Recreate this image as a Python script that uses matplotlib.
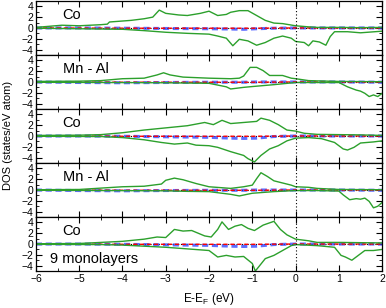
import numpy as np
import matplotlib.pyplot as plt
from matplotlib.ticker import MultipleLocator

plt.rcParams['font.family'] = ['Liberation Sans', 'DejaVu Sans']

labels = ["Co", "Mn - Al", "Co", "Mn - Al", "Co"]

# green curves: (energy, dos) for spin up and spin down, one pair per layer
co1_up_e = [-6, -5.4, -5, -4.5, -4.35, -4.3, -3.8, -3.5, -3.3, -3.15, -3, -2.7, -2.5, -2.2, -2, -1.8, -1.6, -1.5, -1.3, -1.1, -0.9, -0.7, -0.5, -0.3, 0, 0.3, 0.5, 1, 1.5, 2]
co1_up = [0.1, 0.5, 0.4, 0.6, 0.7, 1.1, 1.4, 1.7, 2.0, 3.3, 2.7, 2.4, 2.3, 2.7, 3.1, 2.3, 2.5, 2.9, 3.2, 3.2, 2.3, 1.4, 0.9, 0.8, 0.4, 0.2, 0.1, 0.1, 0.05, 0.1]
co1_dn_e = [-6, -5, -4, -3.5, -3, -2.5, -2, -1.8, -1.6, -1.45, -1.3, -1.1, -0.9, -0.7, -0.5, -0.3, -0.1, 0, 0.2, 0.3, 0.4, 0.55, 0.7, 0.8, 0.9, 1.2, 1.5, 2]
co1_dn = [-0.05, -0.15, -0.25, -0.5, -0.8, -1.0, -1.15, -1.5, -1.9, -3.3, -2.1, -2.4, -3.2, -2.7, -1.9, -1.5, -1.9, -2.5, -2.7, -3.3, -2.4, -2.6, -3.2, -1.6, -0.7, -0.7, -0.9, -0.6]

mn2_up_e = [-6, -5, -4.5, -4, -3.5, -3.2, -3.05, -2.9, -2.6, -2, -1.5, -1.3, -1.2, -1.05, -0.9, -0.75, -0.6, -0.3, -0.1, 0, 0.3, 0.5, 1, 2]
mn2_up = [0.1, 0.15, 0.25, 0.6, 0.7, 1.3, 1.7, 1.3, 0.9, 0.7, 0.6, 0.7, 1.1, 2.7, 2.7, 2.1, 1.2, 1.2, 0.7, 0.6, 0.25, 0.2, 0.1, 0.05]
mn2_dn_e = [-6, -3, -2, -1.6, -1.5, -1.2, -1, -0.5, 0, 0.5, 1, 1.2, 1.4, 1.5, 1.6, 1.7, 1.8, 1.9, 2]
mn2_dn = [-0.05, -0.15, -0.25, -0.9, -1.3, -1.0, -0.85, -0.5, -0.1, -0.1, -0.1, -0.9, -1.5, -1.7, -2.1, -2.7, -2.4, -2.7, -2.1]

co3_up_e = [-6, -5, -4.5, -4, -3.5, -3, -2.5, -2.1, -1.9, -1.7, -1.5, -1.2, -0.9, -0.8, -0.6, -0.4, -0.2, 0, 0.2, 0.5, 1, 1.5, 2]
co3_up = [0.1, 0.15, 0.25, 0.6, 1.1, 1.5, 1.9, 2.5, 2.1, 2.9, 2.3, 2.5, 2.7, 3.3, 2.9, 2.1, 1.1, 0.9, 0.5, 0.3, 0.25, 0.2, 0.1]
co3_dn_e = [-6, -4.5, -4, -3.5, -3.1, -2.8, -2.5, -2.3, -2, -1.8, -1.5, -1.2, -1.1, -0.95, -0.8, -0.6, -0.4, -0.2, 0, 0.3, 0.6, 0.9, 1.1, 1.2, 1.35, 1.5, 1.8, 2]
co3_dn = [-0.05, -0.1, -0.3, -0.7, -1.2, -1.5, -1.3, -1.7, -1.8, -2.1, -2.9, -3.6, -4.2, -4.8, -3.6, -2.4, -1.8, -0.9, -0.4, -0.3, -0.5, -1.2, -2.4, -2.6, -2.1, -1.3, -1.1, -0.9]

mn4_up_e = [-6, -5, -4.5, -4, -3.5, -3.1, -3, -2.8, -2.6, -2.3, -2, -1.5, -1.2, -1, -0.9, -0.8, -0.65, -0.5, -0.3, -0.1, 0, 0.3, 0.5, 1, 2]
mn4_up = [0.05, 0.1, 0.35, 0.6, 0.7, 1.1, 1.8, 2.2, 1.9, 1.2, 0.6, 0.3, 0.6, 0.9, 2.1, 3.2, 2.5, 1.7, 1.3, 0.9, 0.6, 0.5, 0.3, 0.1, 0.05]
mn4_dn_e = [-6, -3, -2.5, -2, -1.5, -1.3, -1, -0.5, 0, 0.5, 1, 1.1, 1.25, 1.4, 1.5, 1.6, 1.7, 1.8, 1.9, 2]
mn4_dn = [-0.05, -0.15, -0.25, -0.3, -0.8, -1.1, -0.6, -0.3, -0.1, -0.1, -0.2, -0.9, -1.8, -1.6, -1.7, -1.5, -2.1, -3.3, -3.0, -2.3]

co5_up_e = [-6, -5, -4.5, -4, -3.5, -3.2, -3, -2.8, -2.6, -2.4, -2.1, -1.95, -1.8, -1.7, -1.55, -1.4, -1.25, -1.1, -0.95, -0.75, -0.5, -0.35, -0.2, 0, 0.3, 0.5, 1, 1.5, 2]
co5_up = [0.05, 0.1, 0.3, 0.5, 0.9, 1.3, 1.2, 2.7, 2.4, 2.5, 1.5, 1.3, 2.7, 4.1, 2.7, 3.3, 3.6, 2.9, 2.5, 3.5, 4.2, 2.7, 1.7, 0.9, 0.6, 0.3, 0.3, 0.25, 0.2]
co5_dn_e = [-6, -4.5, -4, -3.5, -3, -2.5, -2, -1.8, -1.6, -1.4, -1.2, -1.0, -0.93, -0.85, -0.7, -0.5, -0.3, -0.1, 0, 0.5, 0.9, 1.05, 1.15, 1.3, 1.45, 1.6, 1.8, 2]
co5_dn = [-0.05, -0.1, -0.2, -0.4, -0.6, -0.9, -1.2, -2.4, -2.1, -2.4, -2.3, -3.6, -5.0, -4.2, -2.7, -2.1, -1.2, -0.3, -0.1, -0.3, -0.6, -2.1, -2.4, -3.0, -2.1, -1.2, -1.2, -1.0]

# small red / blue partial contributions
blue_e = [-6, -5, -4, -3, -2, -1.5, -1.2, -0.9, -0.5, 0, 1, 2]
blue_co = [0.0, 0.0, -0.05, -0.1, -0.15, -0.2, -0.25, -0.15, -0.05, 0.0, 0.0, 0.0]
blue_co_deep = [0.0, 0.0, -0.05, -0.15, -0.25, -0.4, -0.45, -0.4, -0.1, 0.0, 0.0, 0.0]
blue_mn = [0.0, -0.1, -0.15, -0.1, -0.05, -0.05, -0.05, 0.0, 0.0, 0.0, 0.0, -0.05]
red_e = [-6, -4, -2, -1, 0, 1, 2]
red_vals = [0.0, -0.05, -0.05, -0.05, 0.0, 0.0, 0.0]

green = [(co1_up_e, co1_up, co1_dn_e, co1_dn),
         (mn2_up_e, mn2_up, mn2_dn_e, mn2_dn),
         (co3_up_e, co3_up, co3_dn_e, co3_dn),
         (mn4_up_e, mn4_up, mn4_dn_e, mn4_dn),
         (co5_up_e, co5_up, co5_dn_e, co5_dn)]
blues = [blue_co, blue_mn, blue_co_deep, blue_mn, blue_co_deep]

fig, axes = plt.subplots(5, 1, sharex=True, figsize=(3.86, 3.08), dpi=100)
fig.subplots_adjust(left=0.093, right=0.99, top=0.997, bottom=0.12, hspace=0)

for i, ax in enumerate(axes):
    ue, u, de, d = green[i]
    ax.axhline(0, color='black', lw=0.8, ls=(0, (1, 1.5)))
    ax.plot(blue_e, blues[i], color='#2a3cff', lw=2.2, ls=(0, (2, 1.2)), alpha=0.75)
    ax.plot(red_e, red_vals, color='red', lw=1.0, ls=(0, (3, 2)))
    ax.plot(ue, u, color='#2ca02c', lw=1.0)
    ax.plot(de, d, color='#2ca02c', lw=1.0)
    ax.axvline(0, color='black', lw=0.8, ls=(0, (1, 2)))
    ax.set_xlim(-6, 2)
    ax.set_ylim(-5, 5)
    ax.yaxis.set_minor_locator(MultipleLocator(1))
    ax.xaxis.set_major_locator(MultipleLocator(1))
    ax.xaxis.set_minor_locator(MultipleLocator(0.5))
    ax.set_yticks([-4, -2, 0, 2, 4])
    ax.tick_params(which='both', direction='in', top=True, right=True, labelsize=7.5, pad=2)
    ax.tick_params(which='major', length=4, width=0.8)
    ax.tick_params(which='minor', length=2.5, width=0.6)
    ax.text(-5.38, 2.4, labels[i], fontsize=10.5, va='center')
    for s in ax.spines.values():
        s.set_linewidth(0.9)

axes[-1].text(-5.68, -2.7, "9 monolayers", fontsize=10.5, va='center')
axes[-1].set_xlabel("E-E$_\\mathregular{F}$ (eV)", fontsize=8.5, labelpad=5)
fig.text(0.022, 0.56, "DOS (states/eV atom)", rotation=90, fontsize=8, va='center', ha='center')

fig.savefig("out.png", dpi=100)
